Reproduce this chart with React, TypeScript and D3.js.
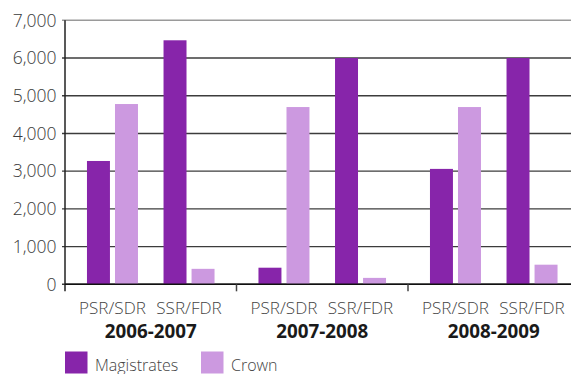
import React from "react";
import * as d3 from "d3";

// Chart data
const periods = ["2006-2007", "2007-2008", "2008-2009"];
const reportTypes = ["PSR/SDR", "SSR/FDR"];
const courts = ["Magistrates", "Crown"];
// Values ordered period by period, PSR/SDR then SSR/FDR
const magistrates = [3270, 6470, 440, 6000, 3060, 6000];
const crown = [4780, 410, 4700, 170, 4700, 520];
const yTicks = [0, 1000, 2000, 3000, 4000, 5000, 6000, 7000];

const colors: Record<string, string> = { Magistrates: "#8725AA", Crown: "#CC99E0" };

const W = 571;
const H = 374;
const margin = { left: 65, top: 20.3, bottom: 284.3 };
const plotRight = 579.5;
const font = "'Open Sans', 'Noto Sans', sans-serif";

export default function App() {
  const y = d3.scaleLinear().domain([0, 7000]).range([margin.bottom, margin.top]);
  const xGroup = d3.scaleBand<string>().domain(periods).range([margin.left, plotRight]).padding(0);
  const xSub = d3
    .scalePoint<string>()
    .domain(reportTypes)
    .range([0, xGroup.bandwidth()])
    .padding(0.62);
  const xCourt = d3.scaleBand<string>().domain(courts).range([-25.5, 25.5]).paddingInner(0.18).paddingOuter(0);

  const fmt = d3.format(",");

  const rows = periods.flatMap((p, gi) =>
    reportTypes.map((r, ri) => ({
      period: p,
      type: r,
      values: { Magistrates: magistrates[gi * 2 + ri], Crown: crown[gi * 2 + ri] } as Record<string, number>,
    }))
  );

  return (
    <svg width={W} height={H} style={{ position: "absolute", left: 0, top: 0, fontFamily: font }}>
      {/* gridlines */}
      {yTicks.map((t) => (
        <line
          key={t}
          x1={margin.left - 3}
          x2={W}
          y1={y(t)}
          y2={y(t)}
          stroke={t === 7000 ? "#9a9a9a" : "#3c3c3c"}
          strokeWidth={1.4}
        />
      ))}
      {/* y tick labels */}
      {yTicks.map((t) => (
        <text key={"l" + t} x={56.5} y={y(t)} dy="0.36em" textAnchor="end" fontSize={17.5} fill="#3a3a3a" fontWeight={300}>
          {fmt(t)}
        </text>
      ))}
      {/* bars */}
      {rows.map((row) => {
        const cx = (xGroup(row.period) as number) + (xSub(row.type) as number);
        return courts.map((c) => (
          <rect
            key={row.period + row.type + c}
            x={cx + (xCourt(c) as number)}
            y={y(row.values[c])}
            width={xCourt.bandwidth()}
            height={y(0) - y(row.values[c])}
            fill={colors[c]}
          />
        ));
      })}
      {/* axes */}
      <line x1={margin.left} x2={margin.left} y1={margin.top} y2={y(0) + 7} stroke="#222" strokeWidth={1.5} />
      <line x1={margin.left} x2={W} y1={y(0)} y2={y(0)} stroke="#111" strokeWidth={1.5} />
      {periods.slice(1).map((p) => (
        <line
          key={"t" + p}
          x1={xGroup(p) as number}
          x2={xGroup(p) as number}
          y1={y(0)}
          y2={y(0) + 7}
          stroke="#444"
          strokeWidth={1.5}
        />
      ))}
      {/* category labels */}
      {rows.map((row) => (
        <text
          key={"c" + row.period + row.type}
          x={(xGroup(row.period) as number) + (xSub(row.type) as number)}
          y={313.5}
          textAnchor="middle"
          fontSize={17.1}
          fill="#444"
          fontWeight={300}
        >
          {row.type}
        </text>
      ))}
      {periods.map((p) => (
        <text
          key={"g" + p}
          x={(xGroup(p) as number) + xGroup.bandwidth() / 2}
          y={338}
          textAnchor="middle"
          fontSize={18.8}
          fontWeight="bold"
          fill="#1a1a1a"
        >
          {p}
        </text>
      ))}
      {/* legend */}
      {courts.map((c, i) => {
        const lx = i === 0 ? 65 : 201;
        return (
          <g key={"lg" + c}>
            <rect x={lx} y={351.5} width={22.5} height={22} fill={colors[c]} />
            <text x={lx + 30} y={370.5} fontSize={16} fill="#444" fontWeight={300}>
              {c}
            </text>
          </g>
        );
      })}
    </svg>
  );
}
